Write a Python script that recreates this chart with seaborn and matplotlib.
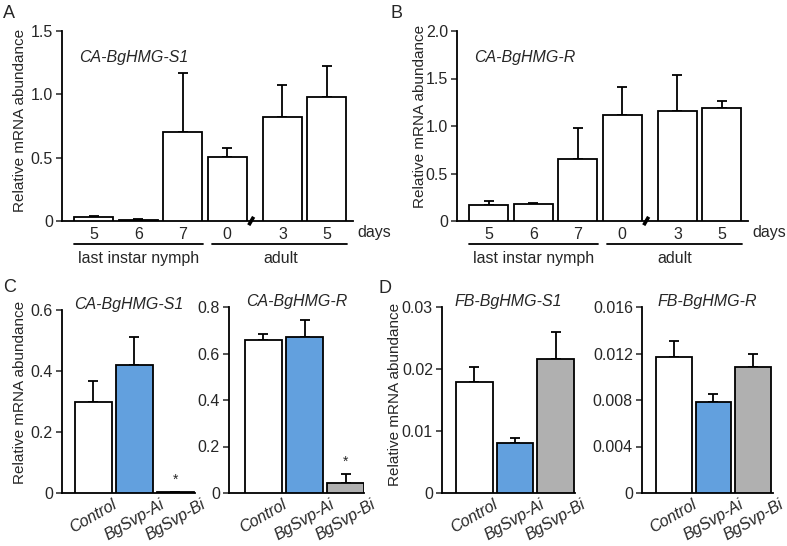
import matplotlib
matplotlib.use("Agg")
import matplotlib.pyplot as plt
import matplotlib.transforms as mtransforms
import numpy as np
import pandas as pd
import seaborn as sns

# ---------------- data ----------------
day_labels = ['5', '6', '7', '0', '3', '5']
a_means = [0.035, 0.008, 0.70, 0.505, 0.825, 0.98]
a_sem = [0.008, 0.008, 0.47, 0.072, 0.245, 0.245]
b_means = [0.165, 0.179, 0.649, 1.119, 1.158, 1.189]
b_sem = [0.049, 0.011, 0.333, 0.291, 0.379, 0.074]

treatments = ['Control', 'BgSvp-Ai', 'BgSvp-Bi']
c_s1_means = [0.30, 0.419, 0.003]
c_s1_sem = [0.066, 0.094, 0.0]
c_r_means = [0.66, 0.673, 0.045]
c_r_sem = [0.023, 0.072, 0.037]
d_s1_means = [0.0179, 0.0081, 0.0216]
d_s1_sem = [0.0025, 0.0007, 0.0044]
d_r_means = [0.0117, 0.0078, 0.0108]
d_r_sem = [0.0014, 0.0007, 0.0012]

# ---------------- style ----------------
sns.set_style('ticks')
plt.rcParams['font.family'] = ['Liberation Sans', 'DejaVu Sans']
plt.rcParams['axes.linewidth'] = 1.3
plt.rcParams['xtick.major.width'] = 1.1
plt.rcParams['ytick.major.width'] = 1.1
plt.rcParams['ytick.major.size'] = 4.5

W, H = 787, 546
fig = plt.figure(figsize=(W / 100, H / 100), dpi=100)


def add_ax(x0, y0, x1, y1):
    return fig.add_axes([x0 / W, 1 - y1 / H, (x1 - x0) / W, (y1 - y0) / H])


TICK_FS = 11.5
LABEL_FS = 11
BLUE = '#62A0DE'
GRAY = '#B0B0B0'
LW = 1.3


def style_axes(ax):
    sns.despine(ax=ax)
    ax.tick_params(axis='y', labelsize=TICK_FS, direction='out', pad=2)
    for s in ax.spines.values():
        s.set_linewidth(LW)
        s.set_color('black')


def time_panel(ax, means, sem, ymax, yticks, yticklabels, title, lab_x, lab_y):
    # layout: break between nymph and adult
    pos = [0, 1, 2, 3, 4.25, 5.25]
    df = pd.DataFrame({'pos': pos, 'val': means})
    sns.barplot(data=df, x='pos', y='val', native_scale=True, width=0.88,
                color='white', edgecolor='black', linewidth=LW, saturation=1,
                errorbar=None, ax=ax, zorder=3)
    ax.errorbar(pos, means, yerr=[np.zeros(len(sem)), sem], fmt='none',
                ecolor='black', elinewidth=LW, capsize=3.5, capthick=LW, zorder=2)
    ax.set_xlim(-0.72, 5.84)
    ax.set_ylim(0, ymax)
    ax.set_yticks(yticks)
    ax.set_yticklabels(yticklabels)
    ax.set_xticks(pos)
    ax.set_xticklabels(day_labels, fontsize=TICK_FS)
    ax.tick_params(axis='x', length=0, pad=4)
    ax.set_xlabel('')
    ax.set_ylabel('Relative mRNA abundance', fontsize=LABEL_FS)
    ax.yaxis.set_label_coords(lab_x, lab_y)
    style_axes(ax)
    ax.text(0.06, 0.86, title, transform=ax.transAxes, fontsize=TICK_FS,
            style='italic', ha='left', va='center')
    trans = mtransforms.blended_transform_factory(ax.transData, ax.transAxes)
    ax.plot([-0.44, 2.45], [-0.121, -0.121], transform=trans, color='black',
            lw=1.3, clip_on=False)
    ax.plot([2.66, 5.71], [-0.121, -0.121], transform=trans, color='black',
            lw=1.3, clip_on=False)
    ax.text(1.0, -0.195, 'last instar nymph', transform=trans, ha='center',
            va='center', fontsize=TICK_FS)
    ax.text(4.2, -0.195, 'adult', transform=trans, ha='center', va='center',
            fontsize=TICK_FS)
    ax.text(1.015, -0.058, 'days', transform=ax.transAxes, ha='left',
            va='center', fontsize=TICK_FS)
    # axis break mark
    ax.plot([3.49, 3.60], [-0.022, 0.022], transform=trans, color='black',
            lw=2.6, clip_on=False, zorder=5, solid_capstyle='butt')


def treat_panel(ax, means, sem, ymax, yticks, yticklabels, title, xlim,
                ylabel=False, lab_x=None, lab_y=None, star=False):
    df = pd.DataFrame({'treat': treatments, 'val': means})
    sns.barplot(data=df, x='treat', y='val', hue='treat',
                palette=['white', BLUE, GRAY], legend=False, width=0.9,
                saturation=1, edgecolor='black', linewidth=LW, errorbar=None,
                ax=ax, zorder=3)
    xs = np.arange(len(treatments))
    ax.errorbar(xs, means, yerr=[np.zeros(len(sem)), sem], fmt='none',
                ecolor='black', elinewidth=LW, capsize=3.5, capthick=LW, zorder=2)
    ax.set_xlim(*xlim)
    ax.set_ylim(0, ymax)
    ax.set_yticks(yticks)
    ax.set_yticklabels(yticklabels)
    ax.set_xticks(xs)
    ax.set_xticklabels(treatments, rotation=30, style='italic',
                       fontsize=TICK_FS)
    ax.tick_params(axis='x', length=0, pad=3)
    ax.set_xlabel('')
    if ylabel:
        ax.set_ylabel('Relative mRNA abundance', fontsize=LABEL_FS)
        ax.yaxis.set_label_coords(lab_x, lab_y)
    else:
        ax.set_ylabel('')
    style_axes(ax)
    ax.text(0.5, 1.03, title, transform=ax.transAxes, fontsize=TICK_FS,
            style='italic', ha='center', va='center')
    if star:
        i = 2
        top = means[i] + sem[i]
        ax.annotate('*', xy=(xs[i], top), xytext=(0, 4),
                    textcoords='offset points', ha='center', va='bottom',
                    fontsize=10)


# Panel A
axA = add_ax(62, 31, 353, 221)
time_panel(axA, a_means, a_sem, 1.5, [0, 0.5, 1.0, 1.5],
           ['0', '0.5', '1.0', '1.5'], 'CA-BgHMG-S1', -0.12, 0.53)

# Panel B
axB = add_ax(457, 31, 748, 221)
time_panel(axB, b_means, b_sem, 2.0, [0, 0.5, 1.0, 1.5, 2.0],
           ['0', '0.5', '1.0', '1.5', '2.0'], 'CA-BgHMG-R', -0.103, 0.55)

# Panel C
axC1 = add_ax(62, 310, 195, 493)
treat_panel(axC1, c_s1_means, c_s1_sem, 0.6, [0, 0.2, 0.4, 0.6],
            ['0', '0.2', '0.4', '0.6'], 'CA-BgHMG-S1', (-0.756, 2.476),
            ylabel=True, lab_x=-0.263, lab_y=0.55, star=True)
axC2 = add_ax(229, 307, 364, 493)
treat_panel(axC2, c_r_means, c_r_sem, 0.8, [0, 0.2, 0.4, 0.6, 0.8],
            ['0', '0.2', '0.4', '0.6', '0.8'], 'CA-BgHMG-R', (-0.84, 2.45),
            star=True)

# Panel D
axD1 = add_ax(442, 307, 575, 493)
treat_panel(axD1, d_s1_means, d_s1_sem, 0.03, [0, 0.01, 0.02, 0.03],
            ['0', '0.01', '0.02', '0.03'], 'FB-BgHMG-S1', (-0.80, 2.48),
            ylabel=True, lab_x=-0.30, lab_y=0.53)
axD2 = add_ax(642, 307, 773, 493)
treat_panel(axD2, d_r_means, d_r_sem, 0.016, [0, 0.004, 0.008, 0.012, 0.016],
            ['0', '0.004', '0.008', '0.012', '0.016'], 'FB-BgHMG-R',
            (-0.79, 2.49))

# panel letters
for letter, x, y in [('A', 3, 5), ('B', 390, 5), ('C', 3, 279), ('D', 378, 280)]:
    fig.text(x / W, 1 - y / H, letter, fontsize=13, ha='left', va='top')

fig.savefig('out.png', dpi=100)
